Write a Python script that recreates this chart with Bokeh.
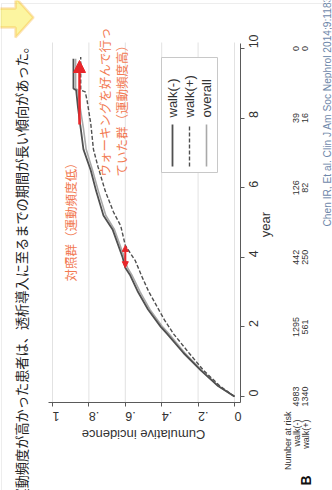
import math
import numpy as np
from bokeh.plotting import figure
from bokeh.models import (Range1d, FixedTicker, Label, LabelSet, ColumnDataSource,
                          Arrow, NormalHead, PolyAnnotation)
from bokeh.core.properties import value
from bokeh.embed import file_html
from bokeh.resources import INLINE

# ---- cumulative incidence of dialysis initiation (year, incidence) ----
years_walk_neg = [0, 0.3, 0.75, 1.25, 1.8, 2.0, 2.5, 3.0, 3.5, 3.7, 4.0, 4.8, 5.2,
                  5.9, 6.5, 7.1, 7.7, 8.3, 8.8, 8.85, 9.7]
inc_walk_neg = [0, 0.09, 0.185, 0.28, 0.37, 0.405, 0.475, 0.53, 0.575, 0.60, 0.615,
                0.67, 0.72, 0.76, 0.79, 0.83, 0.845, 0.86, 0.87, 0.885, 0.885]

years_walk_pos = [0, 0.3, 0.75, 1.25, 1.8, 2.2, 3.0, 3.4, 3.9, 4.34, 4.9, 5.3, 5.9,
                  6.6, 7.1, 7.85, 8.5, 8.75, 8.8, 9.75]
inc_walk_pos = [0, 0.08, 0.17, 0.25, 0.335, 0.385, 0.47, 0.505, 0.545, 0.60, 0.625,
                0.665, 0.71, 0.75, 0.775, 0.79, 0.81, 0.82, 0.845, 0.845]

years_overall = [0, 0.3, 0.75, 1.25, 1.8, 2.0, 2.5, 3.0, 3.5, 3.7, 4.0, 4.8, 5.2,
                 5.9, 6.5, 7.1, 7.7, 8.3, 8.8, 8.85, 9.7]
inc_overall = [0, 0.088, 0.18, 0.273, 0.36, 0.395, 0.465, 0.518, 0.565, 0.588, 0.605,
               0.66, 0.707, 0.748, 0.78, 0.815, 0.83, 0.848, 0.86, 0.873, 0.873]

# ---- number at risk ----
risk_years = [0, 2, 4, 6, 8, 10]
risk_walk_neg = [4983, 1295, 442, 126, 39, 0]
risk_walk_pos = [1340, 561, 250, 82, 16, 0]

# ---- ticks and texts ----
inc_ticks = [0.0, 0.2, 0.4, 0.6, 0.8, 1.0]
inc_tick_labels = ["0", ".2", ".4", ".6", ".8", "1"]
year_ticks = [0, 2, 4, 6, 8, 10]
legend_labels = ["walk(-)", "walk(+)", "overall"]
row_labels = ["walk(-)", "walk(+)"]

caption = "運動頻度が高かった患者は、透析導入に至るまでの期間が長い傾向があった。"
note_low = "対照群（運動頻度低）"
note_high = ["ウォーキングを好んで行っ", "ていた群（運動頻度高）"]
citation = "Chen IR, Et al. Clin J Am Soc Nephrol 2014;9:1183"

# ---- page geometry: the panel is laid on its side, year runs upward ----
W, H = 332, 490
FL, FR, FT, FB = 48, 240, 43, 402          # plot region edges (px)
X_START, X_END = 1.022, -0.033              # incidence at FL / FR (reversed)
Y_START, Y_END = -0.172, 10.14              # year at FB / FT


def cx(px):
    """page x pixel -> incidence coordinate"""
    return X_START + (px - FL) * (X_END - X_START) / (FR - FL)


def cy(py):
    """page y pixel (from top) -> year coordinate"""
    return Y_END - (py - FT) * (Y_END - Y_START) / (FB - FT)


SANS = "Liberation Sans"
JP = "Noto Sans CJK JP"
AX = "#5a5a5a"
TXT = "#333333"
RED = "#e8262a"
ORANGE = "#f27a52"
UP = math.pi / 2

# one canvas-wide frame; the axes sit at fixed positions inside it
p = figure(width=W, height=H, title=None,
           x_range=Range1d(cx(0), cx(W)), y_range=Range1d(cy(H), cy(0)),
           x_axis_location="below", y_axis_location="right",
           output_backend="svg", toolbar_location=None, min_border=0)
p.background_fill_color = "white"
p.border_fill_color = "white"
p.outline_line_color = None
p.grid.visible = False

# incidence axis (upside-down labels)
xa = p.xaxis[0]
xa.fixed_location = cy(FB)
xa.bounds = (cx(FR), cx(FL))
xa.ticker = FixedTicker(ticks=inc_ticks)
xa.major_label_overrides = dict(zip(inc_ticks, inc_tick_labels))
xa.major_label_orientation = math.pi
xa.major_label_standoff = 10
# year axis (labels read bottom to top)
ya = p.yaxis[0]
ya.fixed_location = cx(FR)
ya.bounds = (cy(FB), cy(FT))
ya.ticker = FixedTicker(ticks=year_ticks)
ya.major_label_orientation = UP
ya.major_label_standoff = 9
for ax in (xa, ya):
    ax.axis_line_color = AX
    ax.major_tick_line_color = AX
    ax.major_tick_out = 4
    ax.major_tick_in = 0
    ax.minor_tick_line_color = None
    ax.major_label_text_font = SANS
    ax.major_label_text_font_size = "12.5px"
    ax.major_label_text_color = TXT

# grid lines across the plot region
p.segment(x0=inc_ticks, y0=[cy(FB)] * len(inc_ticks), x1=inc_ticks,
          y1=[cy(FT - 1)] * len(inc_ticks), line_color="#e2e2e2", line_width=1)

# curves
p.line(inc_overall, years_overall, line_color="#a9a9a9", line_width=1.6)
p.line(inc_walk_pos, years_walk_pos, line_color="#505050", line_width=1.4,
       line_dash="4 2")
p.line(inc_walk_neg, years_walk_neg, line_color="#505050", line_width=1.8)

# legend box
p.quad(left=cx(161), right=cx(217), top=cy(57), bottom=cy(172),
       fill_color="white", line_color="#c8c8c8", line_width=1)
leg_x = [172, 189, 206]
leg_styles = [dict(line_color="#505050", line_width=1.8),
              dict(line_color="#505050", line_width=1.4, line_dash="4 2"),
              dict(line_color="#a9a9a9", line_width=1.6)]
for lx, lab, sty in zip(leg_x, legend_labels, leg_styles):
    p.segment(x0=[cx(lx)], y0=[cy(166)], x1=[cx(lx)], y1=[cy(124)], **sty)
    p.text(x=[cx(lx)], y=[cy(117)], text=[lab], angle=UP, text_align="left",
           text_baseline="middle", text_font=value(SANS),
           text_font_size="13px", text_color=TXT)

# red arrows
p.add_layout(Arrow(end=NormalHead(size=12, fill_color=RED, line_color=RED),
                   x_start=cx(79), y_start=cy(124), x_end=cx(79), y_end=cy(60),
                   line_color=RED, line_width=2.5))
gap_inc = 0.6
gap_lo = float(np.interp(gap_inc, inc_walk_neg, years_walk_neg))
gap_hi = float(np.interp(gap_inc, inc_walk_pos, years_walk_pos))
p.add_layout(Arrow(start=NormalHead(size=6, fill_color=RED, line_color=RED),
                   end=NormalHead(size=6, fill_color=RED, line_color=RED),
                   x_start=gap_inc, y_start=gap_lo, x_end=gap_inc, y_end=gap_hi,
                   line_color=RED, line_width=2))

# slide border and the yellow arrow in the corner
p.add_layout(PolyAnnotation(xs=[cx(v) for v in (1, 420, 420, 1)],
                            ys=[cy(v) for v in (3, 3, 620, 620)],
                            fill_color=None, line_color="#c4c4c4", line_width=1))
p.add_layout(PolyAnnotation(xs=[cx(v) for v in (-6, 15, 15, 33, 15, 15, -6)],
                            ys=[cy(v) for v in (8, 8, -3, 17, 37, 27, 27)],
                            fill_color="#f7e512", line_color="#f5a51c",
                            line_width=2.5))


def vlabel(px, py, text, size, color=TXT, font=SANS, align="left",
           style="normal", angle=UP):
    p.add_layout(Label(x=cx(px), y=cy(py), text=text, angle=angle, text_align=align,
                       text_baseline="middle", text_font=font,
                       text_font_size=size, text_color=color,
                       text_font_style=style))


# texts
vlabel(21, 501, caption, "13.2px", color="#222222", font=JP)
vlabel(70, 281, note_low, "12.5px", color=ORANGE, font=JP)
vlabel(104, 176, note_high[0], "12.5px", color=ORANGE, font=JP)
vlabel(121, 176, note_high[1], "12.5px", color=ORANGE, font=JP)
vlabel(265, 224, "year", "13px", align="center")
vlabel(143, 434, "Cumulative incidence", "13px", align="center", angle=math.pi)

# number-at-risk table
vlabel(287, 411, "Number at risk", "9px", align="right")
row_x = [296, 305]
for rx, lab, counts in zip(row_x, row_labels, (risk_walk_neg, risk_walk_pos)):
    vlabel(rx, 419, lab, "9px", align="right")
    src = ColumnDataSource(dict(x=[cx(rx)] * len(risk_years), y=risk_years,
                                t=[str(c) for c in counts]))
    p.add_layout(LabelSet(x="x", y="y", text="t", source=src, angle=UP,
                          text_align="center", text_baseline="middle",
                          text_font=value(SANS), text_font_size="9px",
                          text_color=TXT))

vlabel(305, 480, "B", "14px", align="center", style="bold", color="#111111")
vlabel(327, 226, citation, "10.2px", color="#6f88aa")

open("out.html", "w").write(file_html(p, INLINE))
